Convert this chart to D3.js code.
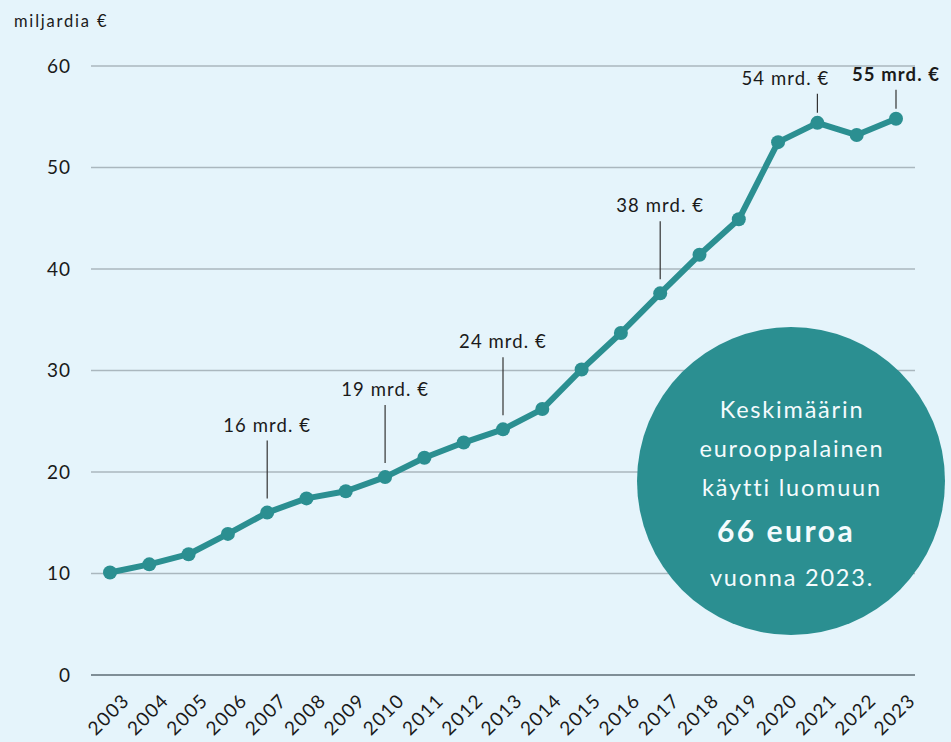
<!DOCTYPE html>
<html><head><meta charset="utf-8">
<script src="https://cdn.jsdelivr.net/npm/d3@7"></script>
<style>body{margin:0;background:#e5f4fb;}svg{display:block;font-family:Lato,"Open Sans",sans-serif;}</style>
</head><body><svg id="c" width="951" height="742"></svg>
<script>
const years = ["2003","2004","2005","2006","2007","2008","2009","2010","2011","2012","2013","2014","2015","2016","2017","2018","2019","2020","2021","2022","2023"];
const values = [10.1,10.9,11.9,13.9,16.0,17.4,18.1,19.5,21.4,22.9,24.2,26.2,30.1,33.7,37.6,41.4,44.9,52.5,54.4,53.2,54.8];
const yTicks = [0,10,20,30,40,50,60];
const annoYears = ["2007","2010","2013","2017","2021","2023"];
const annoLabels = ["16 mrd. €","19 mrd. €","24 mrd. €","38 mrd. €","54 mrd. €","55 mrd. €"];
const annoBold = [false,false,false,false,false,true];
const calloutLines = ["Keskimäärin","eurooppalainen","käytti luomuun","66 euroa","vuonna 2023."];

const svg = d3.select("#c");
const teal = "#2b8f91";
svg.append("rect").attr("width",951).attr("height",742).attr("fill","#e5f4fb");

const x = d3.scalePoint().domain(years).range([110,896]);
const y = d3.scaleLinear().domain([0,60]).range([675,66]);

// grid
const g = svg.append("g");
g.selectAll("line.grid").data(yTicks).join("line")
  .attr("x1",91).attr("x2",915)
  .attr("y1",d=>y(d)).attr("y2",d=>y(d))
  .attr("stroke",d=>d===0?"#7f8e96":"#aab7be").attr("stroke-width",d=>d===0?2:1.5);
g.selectAll("text.yt").data(yTicks).join("text")
  .attr("x",71).attr("y",d=>y(d)).attr("dy","0.36em")
  .attr("text-anchor","end").attr("font-size",19).attr("letter-spacing",1).attr("fill","#1a1a1a").text(d=>d);

svg.append("text").attr("x",14).attr("y",27).attr("font-size",16.5).attr("letter-spacing",1.8).attr("fill","#1a1a1a").text("miljardia €");

// x labels
svg.append("g").selectAll("text").data(years).join("text")
  .attr("transform",d=>`translate(${x(d)+11},${692}) rotate(-45)`)
  .attr("text-anchor","end").attr("dy","0.72em").attr("font-size",19).attr("letter-spacing",1.3).attr("fill","#1a1a1a").text(d=>d);

// callout circle (behind line)
const cx=791, cy=481, r=154;
svg.append("circle").attr("cx",cx).attr("cy",cy).attr("r",r).attr("fill",teal);
const ct = svg.append("g").attr("fill","#f4fbfd").attr("text-anchor","middle");
const ly = [418,457,496,542,586];
calloutLines.forEach((t,i)=>{
  ct.append("text").attr("x",i===3?786:792).attr("y",ly[i])
    .attr("font-size",i===3?30:23.5).attr("font-weight",i===3?700:400)
    .attr("letter-spacing",i===3?2.5:1.8).text(t);
});

// line
const data = years.map((d,i)=>({year:d,value:values[i]}));
svg.append("path").datum(data)
  .attr("d",d3.line().x(d=>x(d.year)).y(d=>y(d.value)))
  .attr("fill","none").attr("stroke",teal).attr("stroke-width",6).attr("stroke-linejoin","round");
svg.append("g").selectAll("circle").data(data).join("circle")
  .attr("cx",d=>x(d.year)).attr("cy",d=>y(d.value)).attr("r",7).attr("fill",teal);

// annotations
const aG = svg.append("g");
annoYears.forEach((yr,i)=>{
  const v = values[years.indexOf(yr)];
  const px = x(yr), py = y(v);
  const short = (yr==="2021"||yr==="2023");
  const top = short ? py-29 : py-72;
  const bot = short ? py-10 : py-14;
  aG.append("line").attr("x1",px).attr("x2",px).attr("y1",top).attr("y2",bot)
    .attr("stroke","#333").attr("stroke-width",1.2);
  const lx = yr==="2021" ? px-32 : px;
  aG.append("text").attr("x",lx).attr("y",top-9).attr("text-anchor","middle")
    .attr("font-size",18.5).attr("letter-spacing",1.1).attr("font-weight",annoBold[i]?700:400).attr("fill","#1a1a1a").text(annoLabels[i]);
});
</script></body></html>
